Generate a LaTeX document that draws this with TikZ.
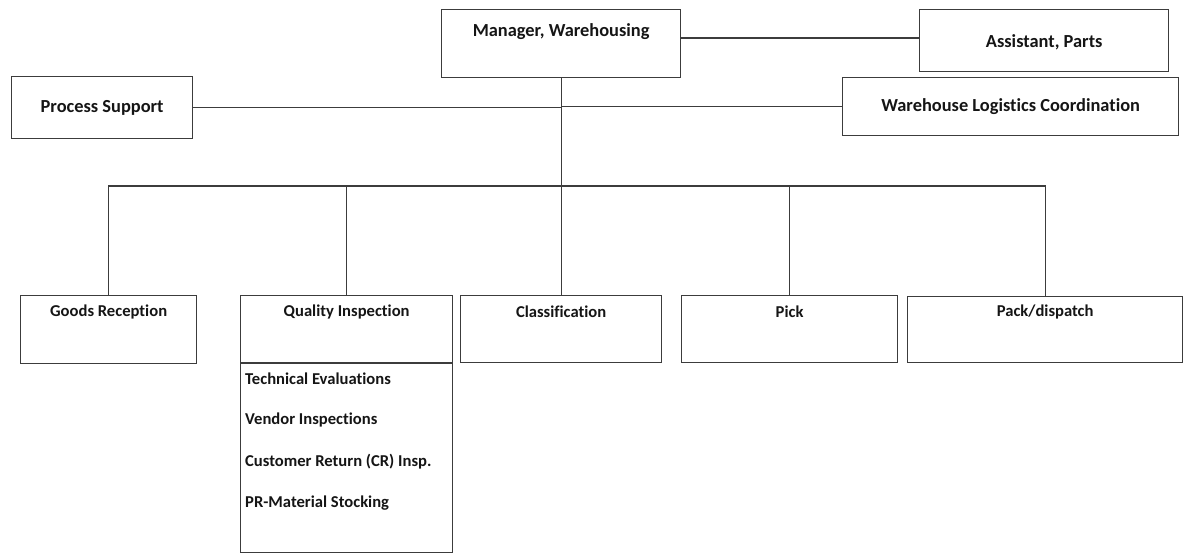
\documentclass[tikz,border=0pt]{standalone}
\usepackage{fontspec}
\setmainfont{Carlito}[Ligatures=NoCommon]
\definecolor{linegray}{HTML}{3C3C3C}
\definecolor{inkblack}{HTML}{151515}
\begin{document}
\begin{tikzpicture}[x=1pt,y=-1pt,
  box/.style={draw=linegray, line width=1.3pt, rectangle, inner sep=0pt, anchor=north west},
  link/.style={draw=linegray, line width=1.1pt},
  toptext/.style={font=\bfseries\fontsize{18.4}{21}\selectfont, text=inkblack, inner sep=0pt},
  subtext/.style={font=\bfseries\fontsize{16.6}{19}\selectfont, text=inkblack, inner sep=0pt},
  itemtext/.style={subtext, anchor=west}]
\useasboundingbox (0,0) rectangle (1186,554);

% management level
\node[box, minimum width=239pt, minimum height=68pt] (mgr) at (441,9) {};
\node[toptext] (mgrt) at ([yshift=-23pt]mgr.north) {Manager, Warehousing};
\node[box, minimum width=249pt, minimum height=62pt] (asst) at (919,9) {};
\node[toptext] (asstt) at ([yshift=-2pt]asst.center) {Assistant, Parts};
\node[box, minimum width=336pt, minimum height=58pt] (wlc) at (842,77) {};
\node[toptext] (wlct) at (wlc.center) {Warehouse Logistics Coordination};
\node[box, minimum width=181pt, minimum height=62pt] (ps) at (11,76) {};
\node[toptext] (pst) at (ps.center) {Process Support};

% operational units
\node[box, minimum width=176pt, minimum height=68pt] (gr) at (20,295) {};
\node[box, minimum width=212pt, minimum height=257pt] (qi) at (240,295) {};
\node[box, minimum width=201pt, minimum height=67pt] (cls) at (460,295) {};
\node[box, minimum width=216pt, minimum height=67pt] (pick) at (681,295) {};
\node[box, minimum width=275pt, minimum height=66pt] (pd) at (907,296) {};

\node[subtext] (grt) at ([yshift=-17pt]gr.north) {Goods Reception};
\node[subtext] (qit) at ([yshift=-17pt]qi.north) {Quality Inspection};
\node[subtext] (clst) at ([yshift=-17pt]cls.north) {Classification};
\node[subtext] (pickt) at ([yshift=-17pt]pick.north) {Pick};
\node[subtext] (pdt) at ([yshift=-16pt]pd.north) {Pack/dispatch};

% quality inspection sub-tasks
\coordinate (qdiv) at ([yshift=-68pt]qi.north west);
\draw[draw=linegray, line width=1.6pt] (qdiv) -- (qdiv -| qi.east);
\node[itemtext] (qi1) at ([xshift=5pt]qi.west |- 0,379) {Technical Evaluations};
\node[itemtext] (qi2) at ([xshift=5pt]qi.west |- 0,420) {Vendor Inspections};
\node[itemtext] (qi3) at ([xshift=5pt]qi.west |- 0,462) {Customer Return (CR) Insp.};
\node[itemtext] (qi4) at ([xshift=5pt]qi.west |- 0,503) {PR-Material Stocking};

% connectors
\coordinate (bus) at (0,186);
\path[link] (mgr.east |- 0,38) -- (asst.west |- 0,38);
\path[link] (mgr.south) -- (mgr.south |- bus);
\path[link] (ps.east) -- (ps.east -| mgr.south);
\path[link] (wlc.west) -- (wlc.west -| mgr.south);
\path[link] (gr.north) -- (gr.north |- bus) -- (pd.north |- bus) -- (pd.north);
\path[link] (qi.north) -- (qi.north |- bus);
\path[link] (cls.north) -- (cls.north |- bus);
\path[link] (pick.north) -- (pick.north |- bus);
\end{tikzpicture}
\end{document}
